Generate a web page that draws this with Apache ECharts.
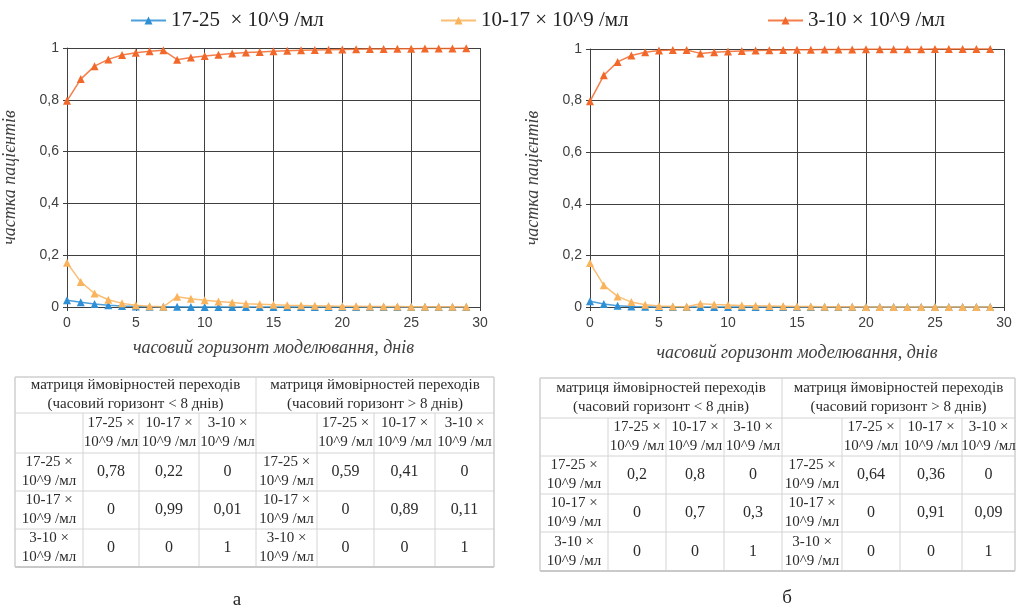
<!DOCTYPE html>
<html>
<head>
<meta charset="utf-8">
<script src="https://cdn.jsdelivr.net/npm/echarts@6/dist/echarts.min.js"></script>
<style>
html,body{margin:0;padding:0;background:#fff;}
#chart{width:1017px;height:611px;}
</style>
</head>
<body>
<div id="chart"></div>
<script>
// ---------- data ----------
const days = [0,1,2,3,4,5,6,7,8,9,10,11,12,13,14,15,16,17,18,19,20,21,22,23,24,25,26,27,28,29];
const seriesNames = ['17-25\u00a0 × 10^9 /мл', '10-17 × 10^9 /мл', '3-10 × 10^9 /мл'];

// chart "а"
const blueA   = [0.026,0.018,0.012,0.007,0.004,0.002,0.001,0.0005,0.0005,0,0,0,0,0,0,0,0,0,0,0,0,0,0,0,0,0,0,0,0,0];
const orangeA = [0.171,0.097,0.052,0.028,0.014,0.007,0.003,0.001,0.040,0.032,0.026,0.021,0.017,0.013,0.011,0.009,0.007,0.006,0.005,0.004,0.003,0.003,0.002,0.002,0.002,0.001,0.001,0.001,0.001,0.001];
const redA    = [0.796,0.880,0.930,0.956,0.973,0.982,0.987,0.991,0.955,0.963,0.969,0.974,0.979,0.983,0.985,0.987,0.989,0.991,0.992,0.993,0.994,0.995,0.996,0.996,0.997,0.997,0.998,0.998,0.998,0.999];

// chart "б"
const blueB   = [0.022,0.012,0.005,0.002,0.001,0,0,0,0,0,0,0,0,0,0,0,0,0,0,0,0,0,0,0,0,0,0,0,0,0];
const orangeB = [0.171,0.084,0.041,0.019,0.009,0.004,0.002,0.001,0.013,0.010,0.008,0.006,0.005,0.004,0.003,0.002,0.002,0.001,0.001,0.001,0,0,0,0,0,0,0,0,0,0];
const redB    = [0.797,0.898,0.950,0.975,0.987,0.994,0.996,0.996,0.983,0.987,0.990,0.992,0.994,0.995,0.996,0.997,0.997,0.998,0.998,0.998,0.999,0.999,0.999,0.999,0.999,1,1,1,1,1];

const xName = 'часовий горизонт моделювання, днів';
const yName = 'частка пацієнтів';

// tables
const tableTitle = 'матриця ймовірностей переходів';
const horizonLt = '(часовий горизонт < 8 днів)';
const horizonGt = '(часовий горизонт > 8 днів)';
const stateLabels = ['17-25', '10-17', '3-10'];
const unitLabel = '10^9 /мл';
const matA_lt = [['0,78','0,22','0'],['0','0,99','0,01'],['0','0','1']];
const matA_gt = [['0,59','0,41','0'],['0','0,89','0,11'],['0','0','1']];
const matB_lt = [['0,2','0,8','0'],['0','0,7','0,3'],['0','0','1']];
const matB_gt = [['0,64','0,36','0'],['0','0,91','0,09'],['0','0','1']];
const panelLabels = ['а', 'б'];

// ---------- style ----------
const colors = ['#2e8fd4', '#f9b35c', '#f2682b'];
const axisColor = '#3f3f3f';
const labelFont = 'sans-serif';
const serif = 'serif';

function xAxisCfg(gridIndex, nameGap) {
  return {
    type: 'value', gridIndex, min: 0, max: 30, interval: 5,
    name: xName, nameLocation: 'middle', nameGap,
    nameTextStyle: {fontFamily: serif, fontStyle: 'italic', fontSize: 18, color: '#404040'},
    axisLine: {show: true, onZero: false, lineStyle: {color: axisColor, width: 1}},
    axisTick: {show: true, length: 4, lineStyle: {color: axisColor}},
    splitLine: {show: true, lineStyle: {color: axisColor, width: 1}},
    axisLabel: {margin: 9, color: '#404040', fontSize: 14, fontFamily: labelFont}
  };
}
function yAxisCfg(gridIndex, nameGap) {
  return {
    type: 'value', gridIndex, min: 0, max: 1, interval: 0.2,
    name: yName, nameLocation: 'middle', nameGap, nameRotate: 90,
    nameTextStyle: {fontFamily: serif, fontStyle: 'italic', fontSize: 18, color: '#404040'},
    axisLine: {show: true, lineStyle: {color: axisColor, width: 1}},
    axisTick: {show: true, length: 4, lineStyle: {color: axisColor}},
    splitLine: {show: true, lineStyle: {color: axisColor, width: 1}},
    axisLabel: {margin: 8, color: '#404040', fontSize: 14, fontFamily: labelFont,
      formatter: v => String(Math.round(v * 10) / 10).replace('.', ',')}
  };
}
function lineSeries(name, idx, values, axisIdx) {
  return {
    name, type: 'line', xAxisIndex: axisIdx, yAxisIndex: axisIdx,
    data: days.map((d, i) => [d, values[i]]),
    symbol: 'triangle', symbolSize: 8, clip: false,
    itemStyle: {color: colors[idx]},
    lineStyle: {color: colors[idx], width: 1.5, opacity: 0.85},
    animation: false, z: 3 + idx
  };
}

// ---------- tables via graphic ----------
const colA = [15, 83, 139, 199, 256, 317, 374, 435, 494];
const rowA = [377, 413, 453, 491, 529, 567];
const colB = [540, 608, 666, 724, 782, 842, 900, 962, 1015];
const rowB = [378, 418, 456, 494, 532, 571];

const txtColor = '#2b2b2b';
const rich = {
  t: {fontFamily: serif, fontSize: 15, color: txtColor, lineHeight: 19},
  x: {fontFamily: serif, fontSize: 15, color: '#8a6d99', lineHeight: 19}
};
function stateText(i) {
  return '{t|' + stateLabels[i] + ' }{x|×}\n{t|' + unitLabel + '}';
}
function textEl(x, y, text, extra) {
  return {type: 'text', x, y, silent: true, z: 10,
    style: Object.assign({text, align: 'center', verticalAlign: 'middle',
      fontFamily: serif, fontSize: 15, fill: txtColor, rich, lineHeight: 19}, extra || {})};
}
function lineEl(x1, y1, x2, y2, w, c) {
  return {type: 'line', silent: true, z: 5, shape: {x1, y1, x2, y2},
    style: {stroke: c || '#d4d4d4', lineWidth: w || 1}};
}
function buildTable(col, row, mLt, mGt) {
  const els = [];
  const L = col[0], R = col[col.length - 1], T = row[0], B = row[row.length - 1];
  for (let r = 1; r < row.length - 1; r++) els.push(lineEl(L, row[r], R, row[r]));
  for (let c = 1; c < col.length - 1; c++) {
    const top = (c === 4) ? T : row[1];
    els.push(lineEl(col[c], top, col[c], B));
  }
  els.push(lineEl(L, T, R, T, 1.5, '#cfcfcf'));
  els.push(lineEl(L, B, R, B, 2, '#c9c9c9'));
  els.push(lineEl(L, T, L, B, 1.5, '#cfcfcf'));
  els.push(lineEl(R, T, R, B, 1.5, '#cfcfcf'));
  const cx = c => (col[c] + col[c + 1]) / 2;
  const cy = r => (row[r] + row[r + 1]) / 2;
  els.push(textEl((col[0] + col[4]) / 2, cy(0), tableTitle + '\n' + horizonLt));
  els.push(textEl((col[4] + col[8]) / 2, cy(0), tableTitle + '\n' + horizonGt));
  for (let k = 0; k < 3; k++) {
    els.push(textEl(cx(1 + k), cy(1), stateText(k)));
    els.push(textEl(cx(5 + k), cy(1), stateText(k)));
  }
  for (let r = 0; r < 3; r++) {
    els.push(textEl(cx(0), cy(2 + r), stateText(r)));
    els.push(textEl(cx(4), cy(2 + r), stateText(r)));
    for (let k = 0; k < 3; k++) {
      els.push(textEl(cx(1 + k), cy(2 + r), mLt[r][k], {fontSize: 16}));
      els.push(textEl(cx(5 + k), cy(2 + r), mGt[r][k], {fontSize: 16}));
    }
  }
  return els;
}

const graphics = []
  .concat(buildTable(colA, rowA, matA_lt, matA_gt))
  .concat(buildTable(colB, rowB, matB_lt, matB_gt))
  .concat([
    textEl(237, 600, panelLabels[0], {fontSize: 19, fill: '#222'}),
    textEl(787, 598, panelLabels[1], {fontSize: 19, fill: '#222'})
  ]);

const legendText = {fontFamily: serif, fontSize: 21, color: '#222'};
const legendBase = {top: 10, padding: 0, itemWidth: 35, itemHeight: 10, textStyle: legendText, selectedMode: false};
const chart = echarts.init(document.getElementById('chart'), null, {renderer: 'canvas'});
chart.setOption({
  backgroundColor: '#fff',
  animation: false,
  color: colors,
  legend: [
    Object.assign({data: [seriesNames[0]], left: 130}, legendBase),
    Object.assign({data: [seriesNames[1]], left: 440}, legendBase),
    Object.assign({data: [seriesNames[2]], left: 767}, legendBase)
  ],
  grid: [
    {left: 65, top: 48, width: 415, height: 259, containLabel: false},
    {left: 590, top: 49, width: 414, height: 258, containLabel: false}
  ],
  xAxis: [xAxisCfg(0, 32), xAxisCfg(1, 37)],
  yAxis: [yAxisCfg(0, 48), yAxisCfg(1, 48)],
  series: [
    lineSeries(seriesNames[0], 0, blueA, 0),
    lineSeries(seriesNames[1], 1, orangeA, 0),
    lineSeries(seriesNames[2], 2, redA, 0),
    lineSeries(seriesNames[0], 0, blueB, 1),
    lineSeries(seriesNames[1], 1, orangeB, 1),
    lineSeries(seriesNames[2], 2, redB, 1)
  ],
  graphic: graphics
});
</script>
</body>
</html>
